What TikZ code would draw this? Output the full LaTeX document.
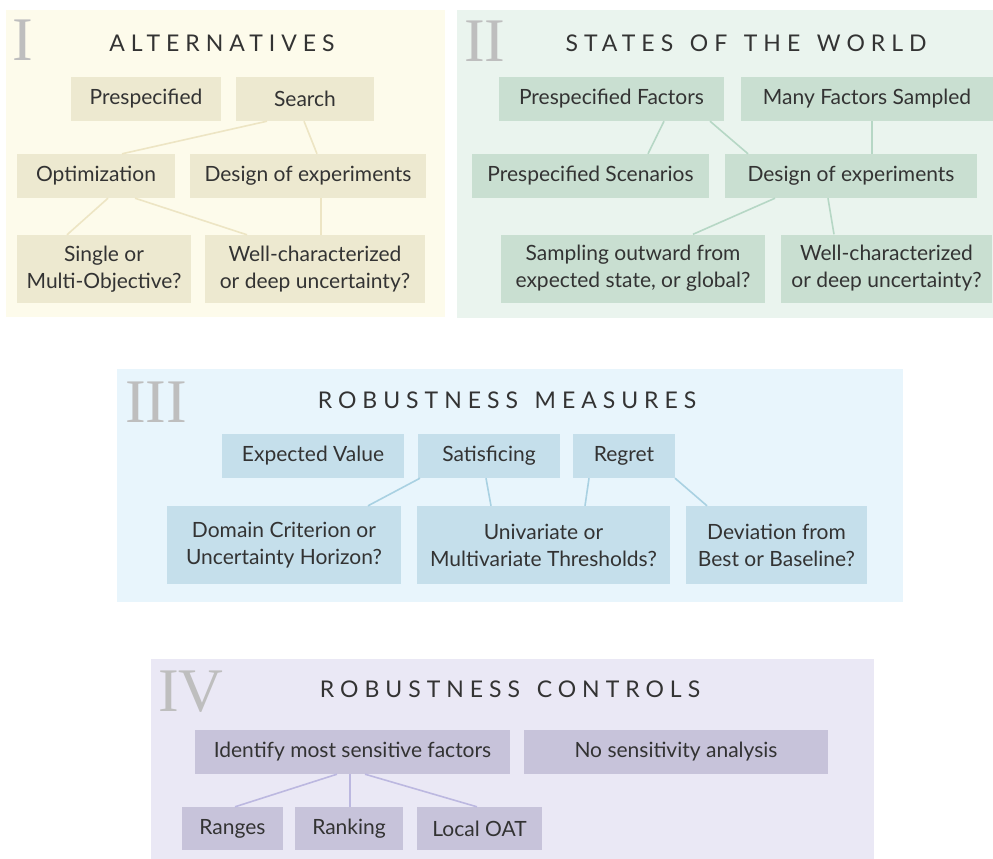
\documentclass[tikz,border=0pt]{standalone}
\usepackage{fontspec}
\setmainfont{Lato}
\newfontfamily\headfont[LetterSpace=26,WordSpace=1.4]{Lato}
\newfontfamily\numfont{Liberation Serif}
\usepackage{xcolor}
\usepackage{tikz}

\definecolor{ink}{HTML}{333333}
\definecolor{numgray}{HTML}{BEBEBE}
\definecolor{bgA}{HTML}{FDFBEB}
\definecolor{boxA}{HTML}{EDE9D0}
\definecolor{lineA}{HTML}{EDE5C4}
\definecolor{bgB}{HTML}{EAF4EE}
\definecolor{boxB}{HTML}{C9DFD1}
\definecolor{lineB}{HTML}{B6D7C5}
\definecolor{bgC}{HTML}{E8F5FC}
\definecolor{boxC}{HTML}{C5DFEB}
\definecolor{lineC}{HTML}{A9D1E2}
\definecolor{bgD}{HTML}{EAE8F5}
\definecolor{boxD}{HTML}{C7C3DA}
\definecolor{lineD}{HTML}{BCB8E0}

\begin{document}
\begin{tikzpicture}[x=1pt,y=-1pt,
    box/.style={inner sep=0pt,align=center,text=ink,minimum height=44pt,
                font=\fontsize{21}{27}\selectfont},
    tall/.style={minimum height=68pt},
    head/.style={text=ink,inner sep=0pt,font=\headfont\fontsize{23}{23}\selectfont},
    numeral/.style={text=numgray,inner sep=0pt,anchor=base west,
                font=\numfont\fontsize{62}{62}\selectfont},
    lnk/.style={line width=1.6pt}]
    \useasboundingbox (0,0) rectangle (993,859);

    % panel backgrounds
    \fill[bgA] (6,10) rectangle (445,317);
    \fill[bgB] (457,10) rectangle (993,318);
    \fill[bgC] (117,369) rectangle (903,602);
    \fill[bgD] (151,659) rectangle (874,859);

    % I
    \node[numeral] (numI) at (12,61) {I};
    \node[head] (headI) at (222,43) {ALTERNATIVES};
    \node[box,fill=boxA,minimum width=150pt] (preA) at (146,99) {Prespecified};
    \node[box,fill=boxA,minimum width=138pt] (search) at (305,99) {Search};
    \node[box,fill=boxA,minimum width=158pt] (opt) at (96,176) {Optimization};
    \node[box,fill=boxA,minimum width=236pt] (doeA) at (308,176) {Design of experiments};
    \node[box,tall,fill=boxA,minimum width=174pt] (single) at (104,269) {Single or\\Multi-Objective?};
    \node[box,tall,fill=boxA,minimum width=220pt] (wellA) at (315,269) {Well-characterized\\or deep uncertainty?};
    \draw[lnk,lineA] ([xshift=-38pt]search.south) -- ([xshift=26pt]opt.north);
    \draw[lnk,lineA] ([xshift=-1pt]search.south) -- ([xshift=9pt]doeA.north);
    \draw[lnk,lineA] ([xshift=12pt]opt.south) -- ([xshift=-37pt]single.north);
    \draw[lnk,lineA] ([xshift=39pt]opt.south) -- ([xshift=-68pt]wellA.north);
    \draw[lnk,lineA] ([xshift=13pt]doeA.south) -- ([xshift=6pt]wellA.north);

    % II
    \node[numeral] (numII) at (464,62) {II};
    \node[head] (headII) at (746,43) {STATES OF THE WORLD};
    \node[box,fill=boxB,minimum width=225pt] (pfac) at (611.5,99) {Prespecified Factors};
    \node[box,fill=boxB,minimum width=252pt] (many) at (867,99) {Many Factors Sampled};
    \node[box,fill=boxB,minimum width=237pt] (pscen) at (590.5,176) {Prespecified Scenarios};
    \node[box,fill=boxB,minimum width=252pt] (doeB) at (851,176) {Design of experiments};
    \node[box,tall,fill=boxB,minimum width=264pt] (samp) at (633,268.5) {Sampling outward from\\expected state, or global?};
    \node[box,tall,fill=boxB,minimum width=211pt] (wellB) at (886.5,268.5) {Well-characterized\\or deep uncertainty?};
    \draw[lnk,lineB] ([xshift=52.5pt]pfac.south) -- ([xshift=57.5pt]pscen.north);
    \draw[lnk,lineB] ([xshift=98.5pt]pfac.south) -- ([xshift=-103pt]doeB.north);
    \draw[lnk,lineB] ([xshift=5pt]many.south) -- ([xshift=21pt]doeB.north);
    \draw[lnk,lineB] ([xshift=-76pt]doeB.south) -- ([xshift=60pt]samp.north);
    \draw[lnk,lineB] ([xshift=-23pt]doeB.south) -- ([xshift=-52.5pt]wellB.north);

    % III
    \node[numeral] (numIII) at (125,422) {III};
    \node[head] (headIII) at (507,400) {ROBUSTNESS MEASURES};
    \node[box,fill=boxC,minimum width=182pt] (ev) at (313,456) {Expected Value};
    \node[box,fill=boxC,minimum width=142pt] (sat) at (489,456) {Satisficing};
    \node[box,fill=boxC,minimum width=102pt] (regret) at (624,456) {Regret};
    \node[box,fill=boxC,minimum width=234pt,minimum height=78pt] (dom) at (284,545) {Domain Criterion or\\Uncertainty Horizon?};
    \node[box,fill=boxC,minimum width=253pt,minimum height=78pt] (uni) at (543.5,545) {Univariate or\\Multivariate Thresholds?};
    \node[box,fill=boxC,minimum width=181pt,minimum height=78pt] (dev) at (776.5,545) {Deviation from\\Best or Baseline?};
    \draw[lnk,lineC] ([xshift=-69pt]sat.south) -- ([xshift=84pt]dom.north);
    \draw[lnk,lineC] ([xshift=-3pt]sat.south) -- ([xshift=-52.5pt]uni.north);
    \draw[lnk,lineC] ([xshift=-35pt]regret.south) -- ([xshift=41.5pt]uni.north);
    \draw[lnk,lineC] ([xshift=51pt]regret.south) -- ([xshift=-69.5pt]dev.north);

    % IV
    \node[numeral] (numIV) at (158,711) {IV};
    \node[head] (headIV) at (510,689) {ROBUSTNESS CONTROLS};
    \node[box,fill=boxD,minimum width=315pt] (ident) at (352.5,752) {Identify most sensitive factors};
    \node[box,fill=boxD,minimum width=304pt] (nosens) at (676,752) {No sensitivity analysis};
    \node[box,fill=boxD,minimum width=101pt,minimum height=43pt] (ranges) at (232.5,828.5) {Ranges};
    \node[box,fill=boxD,minimum width=108pt,minimum height=43pt] (ranking) at (349,828.5) {Ranking};
    \node[box,fill=boxD,minimum width=125pt,minimum height=43pt] (loat) at (479.5,828.5) {Local OAT};
    \draw[lnk,lineD] ([xshift=-15.5pt]ident.south) -- ([xshift=2.5pt]ranges.north);
    \draw[lnk,lineD] ([xshift=-2.5pt]ident.south) -- ([xshift=1pt]ranking.north);
    \draw[lnk,lineD] ([xshift=12.5pt]ident.south) -- ([xshift=-2.5pt]loat.north);
\end{tikzpicture}
\end{document}
